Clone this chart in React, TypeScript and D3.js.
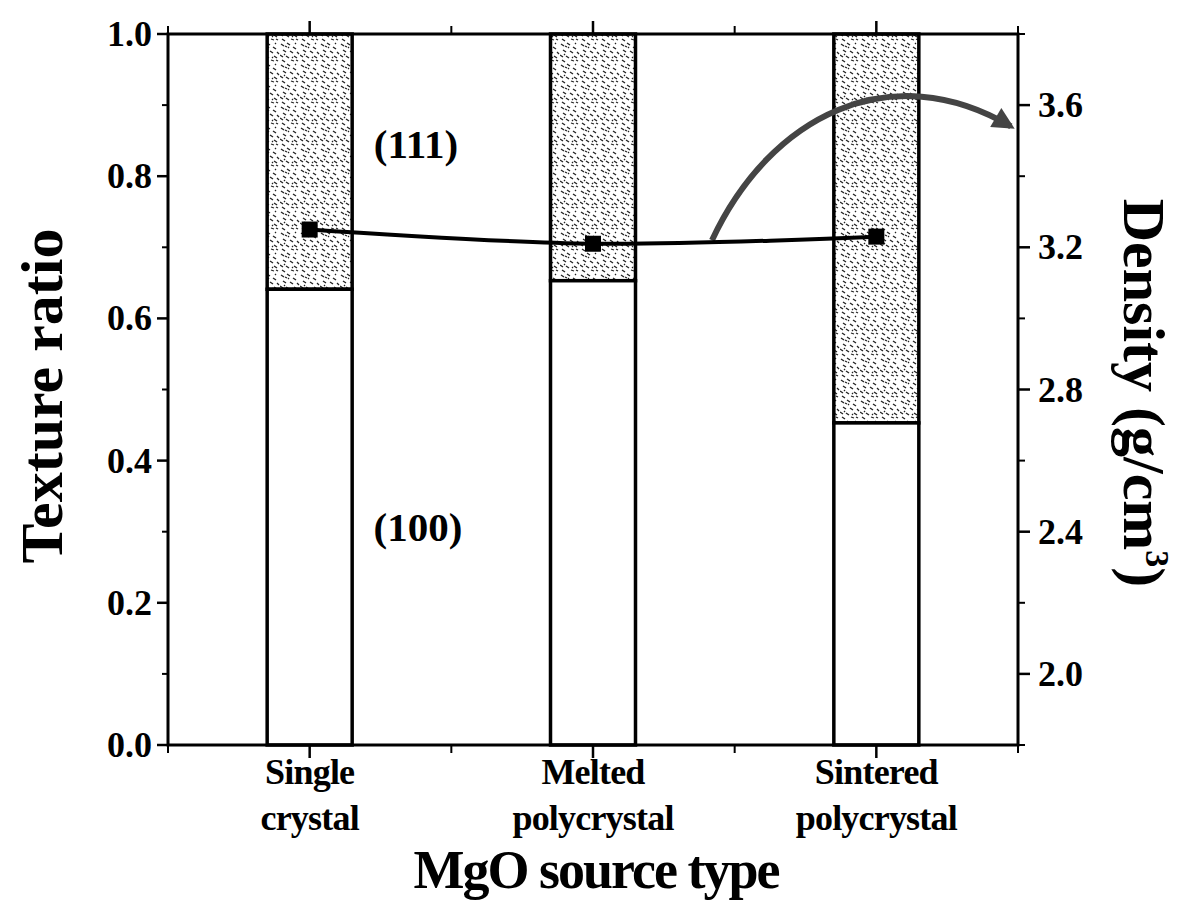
import React from 'react';
import * as d3 from 'd3';

// values
const categoryLines = [
  ['Single', 'crystal'],
  ['Melted', 'polycrystal'],
  ['Sintered', 'polycrystal'],
];
const categoryPos = [1, 2, 3];
const ratio100 = [0.641, 0.653, 0.453];
const ratio111 = [0.359, 0.347, 0.547];
const density = [3.25, 3.21, 3.23];
const leftTicks = [0, 0.2, 0.4, 0.6, 0.8, 1.0];
const leftMinor = [0.1, 0.3, 0.5, 0.7, 0.9];
const rightTicks = [2.0, 2.4, 2.8, 3.2, 3.6];
const rightMinor = [1.8, 2.2, 2.6, 3.0, 3.4, 3.8];
const bottomMinor = [0.5, 1.5, 2.5, 3.5];

// annotation arrow, in (x, density) units
const arrowPts: [number, number][] = [
  [2.42, 3.22],
  [2.625, 3.57],
  [3.05, 3.74],
  [3.475, 3.54],
];

const W = 1185;
const H = 900;
const M = { left: 168, top: 34, right: 167, bottom: 155 };
const FONT = '"Liberation Serif", "Times New Roman", serif';

// little dashes for the speckled (111) fill
const dashes = [
  [1, 2, 4, 4], [7, 1, 10, 3], [13, 5, 16, 7], [3, 8, 6, 10], [10, 9, 13, 11],
  [0, 13, 3, 15], [6, 14, 9, 16], [14, 14, 17, 16], [2, 18, 5, 20], [11, 18, 14, 19],
  [17, 10, 19, 12], [8, 5, 9, 6], [15, 1, 16, 2], [4, 12, 5, 13], [12, 15, 13, 16],
  [5, 4, 7, 5], [16, 18, 18, 19],
];

export default function App() {
  const iw = W - M.left - M.right;
  const ih = H - M.top - M.bottom;
  const x = d3.scaleLinear().domain([0.5, 3.5]).range([M.left, M.left + iw]);
  const yL = d3.scaleLinear().domain([0, 1]).range([M.top + ih, M.top]);
  const yR = d3.scaleLinear().domain([1.8, 3.8]).range([M.top + ih, M.top]);
  const barW = x(1.3) - x(1);
  const bottom = M.top + ih;
  const rightX = M.left + iw;

  const line = d3
    .line<number>()
    .x((_, i) => x(categoryPos[i]))
    .y((d) => yR(d))
    .curve(d3.curveCatmullRom);

  const p = arrowPts.map(([a, b]) => [x(a), yR(b)]);
  const arrowPath = `M${p[0][0]},${p[0][1]} C${p[1][0]},${p[1][1]} ${p[2][0]},${p[2][1]} ${p[3][0]},${p[3][1]}`;

  const tickText = { fontFamily: FONT, fontWeight: 700, fontSize: 36, fill: '#000' } as const;

  return (
    <svg width={W} height={H} style={{ position: 'absolute', left: 0, top: 0, background: '#fff' }}>
      <defs>
        <pattern id="speckle" width="20" height="21" patternUnits="userSpaceOnUse">
          <rect width="20" height="21" fill="#fff" />
          <g stroke="#222" strokeWidth={1.3}>
            {dashes.map((d, i) => (
              <line key={i} x1={d[0]} y1={d[1]} x2={d[2]} y2={d[3]} />
            ))}
          </g>
        </pattern>
        <marker id="head" viewBox="0 0 10 10" refX="8" refY="5" markerWidth="26" markerHeight="22"
          markerUnits="userSpaceOnUse" orient="auto">
          <path d="M0,0 L10,5 L0,10 Z" fill="#444" />
        </marker>
      </defs>

      {/* bars */}
      {categoryPos.map((c, i) => {
        const x0 = x(c) - barW / 2;
        return (
          <g key={i}>
            <rect x={x0} y={yL(ratio100[i] + ratio111[i])} width={barW}
              height={yL(ratio100[i]) - yL(ratio100[i] + ratio111[i])}
              fill="url(#speckle)" stroke="#000" strokeWidth={3.5} />
            <rect x={x0} y={yL(ratio100[i])} width={barW}
              height={yL(0) - yL(ratio100[i])} fill="#fff" stroke="#000" strokeWidth={3.5} />
          </g>
        );
      })}

      {/* arrow */}
      <path d={arrowPath} fill="none" stroke="#444" strokeWidth={6} markerEnd="url(#head)" />

      {/* density line */}
      <path d={line(density) || ''} fill="none" stroke="#000" strokeWidth={4} />
      {density.map((d, i) => (
        <rect key={i} x={x(categoryPos[i]) - 8} y={yR(d) - 8} width={16} height={16} fill="#000" />
      ))}

      {/* frame */}
      <rect x={M.left} y={M.top} width={iw} height={ih} fill="none" stroke="#000" strokeWidth={3} />

      {/* left axis ticks */}
      {leftTicks.map((t) => (
        <g key={t}>
          <line x1={M.left - 11} x2={M.left} y1={yL(t)} y2={yL(t)} stroke="#000" strokeWidth={2.5} />
          <text x={M.left - 16} y={yL(t) + 12} textAnchor="end" {...tickText}>{t.toFixed(1)}</text>
        </g>
      ))}
      {leftMinor.map((t) => (
        <line key={t} x1={M.left - 6} x2={M.left} y1={yL(t)} y2={yL(t)} stroke="#000" strokeWidth={2} />
      ))}

      {/* right axis ticks */}
      {rightTicks.map((t) => (
        <g key={t}>
          <line x1={rightX} x2={rightX + 12} y1={yR(t)} y2={yR(t)} stroke="#000" strokeWidth={2.5} />
          <text x={rightX + 20} y={yR(t) + 12} textAnchor="start" {...tickText}>{t.toFixed(1)}</text>
        </g>
      ))}
      {rightMinor.map((t) => (
        <line key={t} x1={rightX} x2={rightX + 7} y1={yR(t)} y2={yR(t)} stroke="#000" strokeWidth={2} />
      ))}

      {/* bottom / top ticks */}
      {categoryPos.map((c) => (
        <g key={c}>
          <line x1={x(c)} x2={x(c)} y1={bottom} y2={bottom + 13} stroke="#000" strokeWidth={2.5} />
          <line x1={x(c)} x2={x(c)} y1={M.top} y2={M.top - 13} stroke="#000" strokeWidth={2.5} />
        </g>
      ))}
      {bottomMinor.map((c) => (
        <g key={c}>
          <line x1={x(c)} x2={x(c)} y1={bottom} y2={bottom + 8} stroke="#000" strokeWidth={2} />
          <line x1={x(c)} x2={x(c)} y1={M.top} y2={M.top - 8} stroke="#000" strokeWidth={2} />
        </g>
      ))}

      {/* category labels */}
      {categoryLines.map((lines, i) => (
        <text key={i} textAnchor="middle" {...tickText} fontSize={36} letterSpacing={-0.8}>
          <tspan x={x(categoryPos[i])} y={784}>{lines[0]}</tspan>
          <tspan x={x(categoryPos[i])} y={830}>{lines[1]}</tspan>
        </text>
      ))}

      {/* in-plot labels */}
      <text x={416} y={158} textAnchor="middle" {...tickText} fontSize={41}>(111)</text>
      <text x={418} y={541} textAnchor="middle" {...tickText} fontSize={41}>(100)</text>

      {/* axis titles */}
      <text x={596} y={888} textAnchor="middle" fontFamily={FONT} fontWeight={700}
        fontSize={54} letterSpacing={-2}>MgO source type</text>
      <text transform={`translate(62, 396) rotate(-90)`} textAnchor="middle"
        fontFamily={FONT} fontWeight={700} fontSize={60}>Texture ratio</text>
      <text transform={`translate(1124, 393) rotate(90)`} textAnchor="middle"
        fontFamily={FONT} fontWeight={700} fontSize={60}>
        Density (g/cm<tspan dy={-22} fontSize={34}>3</tspan><tspan dy={22}>)</tspan>
      </text>
    </svg>
  );
}
